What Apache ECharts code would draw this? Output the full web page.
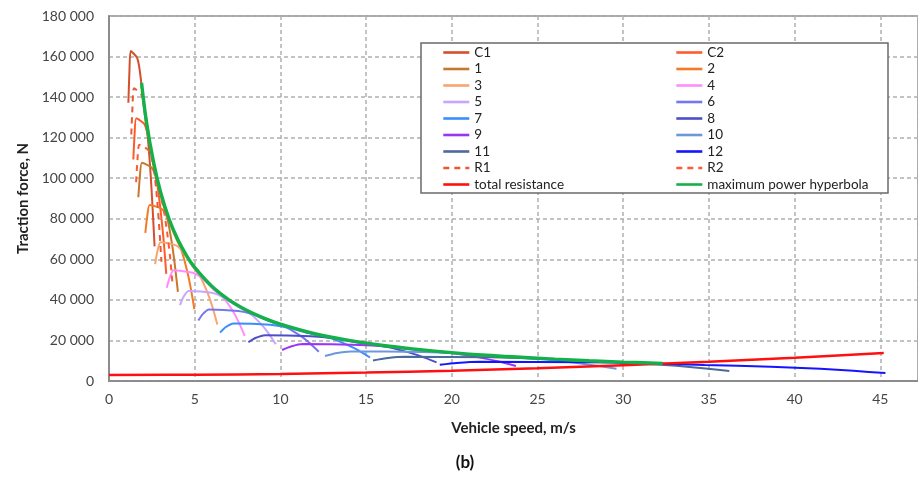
<!DOCTYPE html>
<html>
<head>
<meta charset="utf-8">
<script src="https://cdn.jsdelivr.net/npm/echarts@6/dist/echarts.min.js"></script>
<style>
html,body{margin:0;padding:0;background:#fff;}
#chart{width:918px;height:486px;}
</style>
</head>
<body>
<div id="chart"></div>
<script>
// ---- data: [speed m/s, traction force N] ----
const xTicks = [0, 5, 10, 15, 20, 25, 30, 35, 40, 45];
const yTicks = [0, 20000, 40000, 60000, 80000, 100000, 120000, 140000, 160000, 180000];

const gearC1 = [[1.13,137200],[1.19,152200],[1.27,162800],[1.64,159300],[1.81,152200],[2.03,135400],[2.26,120400],[2.43,101800],[2.54,85800],[2.66,66400]];
const gearC2 = [[1.42,109200],[1.49,121100],[1.59,129600],[2.06,126800],[2.27,121100],[2.56,107700],[2.84,95800],[3.05,81000],[3.20,68300],[3.34,52800]];
const gear1  = [[1.71,90600],[1.80,100600],[1.92,107600],[2.48,105300],[2.74,100600],[3.08,89500],[3.42,79500],[3.68,67300],[3.85,56700],[4.02,43900]];
const gear2  = [[2.12,73100],[2.23,81100],[2.37,86800],[3.07,84900],[3.39,81100],[3.82,72200],[4.24,64200],[4.56,54200],[4.77,45800],[4.98,35400]];
const gear3  = [[2.69,57600],[2.82,63900],[3.01,68400],[3.90,66900],[4.30,63900],[4.84,56900],[5.38,50600],[5.78,42800],[6.05,36100],[6.32,27900]];
const gear4  = [[3.37,46000],[3.54,51000],[3.77,54600],[4.89,53400],[5.39,51000],[6.07,45400],[6.74,40400],[7.25,34100],[7.58,28800],[7.92,22300]];
const gear5  = [[4.14,37400],[4.35,41500],[4.64,44400],[6.00,43500],[6.62,41500],[7.45,37000],[8.28,32900],[8.90,27800],[9.32,23400],[9.73,18100]];
const gear6  = [[5.21,29800],[5.47,33000],[5.84,35300],[7.55,34500],[8.34,33000],[9.38,29400],[10.42,26100],[11.20,22100],[11.72,18600],[12.24,14400]];
const gear7  = [[6.48,23900],[6.80,26500],[7.26,28400],[9.40,27800],[10.37,26500],[11.66,23600],[12.96,21000],[13.93,17700],[14.58,15000],[15.23,11600]];
const gear8  = [[8.13,19100],[8.54,21200],[9.11,22600],[11.79,22100],[13.01,21200],[14.63,18800],[16.26,16700],[17.48,14100],[18.29,11900],[19.11,9200]];
const gear9  = [[10.1,15300],[10.61,17000],[11.31,18200],[14.65,17800],[16.16,17000],[18.18,15100],[20.2,13500],[21.72,11400],[22.73,9600],[23.74,7400]];
const gear10 = [[12.6,12300],[13.23,13700],[14.11,14600],[18.27,14300],[20.16,13700],[22.68,12100],[25.2,10800],[27.09,9100],[28.35,7700],[29.61,6000]];
const gear11 = [[15.4,10100],[16.17,11200],[17.25,11900],[22.33,11700],[24.64,11200],[27.72,9900],[30.8,8800],[33.11,7500],[34.65,6300],[36.19,4900]];
const gear12 = [[19.3,8000],[20.27,8900],[21.62,9500],[27.99,9300],[30.88,8900],[34.74,7900],[38.6,7000],[41.5,6000],[43.43,5000],[45.3,3900]];
const gearR1 = [[1.30,121600],[1.37,135000],[1.46,144400],[1.89,141200],[2.08,135000],[2.34,120000],[2.60,106700],[2.80,90200],[2.93,76100],[3.06,58800]];
const gearR2 = [[1.58,98100],[1.66,108900],[1.77,116500],[2.29,113900],[2.53,108900],[2.84,96800],[3.16,86100],[3.40,72800],[3.56,61400],[3.71,47500]];
const totalResistance = [[0,3000],[5,3100],[10,3500],[15,4200],[20,5100],[25,6300],[30,7800],[35,9500],[40,11500],[45.2,13800]];
const maxPowerHyperbola = [[1.9,147000],[2.2,127000],[2.6,108000],[3.0,93500],[3.5,80000],[4.0,70000],[4.5,62200],[5.0,56000],[6.0,46700],[7.0,40000],[8.0,35000],[9.0,31100],[10,28000],[12,23300],[14,20000],[16,17500],[18,15600],[20,14000],[22,12700],[24,11700],[26,10800],[28,10000],[30,9300],[32.3,8700]];

const seriesNames = ['C1','C2','1','2','3','4','5','6','7','8','9','10','11','12','R1','R2','total resistance','maximum power hyperbola'];
const seriesData = [gearC1,gearC2,gear1,gear2,gear3,gear4,gear5,gear6,gear7,gear8,gear9,gear10,gear11,gear12,gearR1,gearR2,totalResistance,maxPowerHyperbola];
const seriesColors = ['#d2502c','#ff5a2a','#c8782c','#f47a26','#f9a46e','#ff8cff','#c8a6ff','#7676f0','#3a8cff','#4e4ec8','#9a34f8','#6c98da','#4a6a9c','#1414ff','#e85a36','#ff5a36','#ff1010','#14b04a'];

const FONT = 'Lato, "Open Sans", sans-serif';

function fmtThousands(v){ return String(v).replace(/\B(?=(\d{3})+(?!\d))/g, ' '); }

const series = seriesNames.map((n, i) => {
  const dashed = n === 'R1' || n === 'R2';
  let width = 2;
  if (n === 'total resistance') width = 2.5;
  if (n === 'maximum power hyperbola') width = 3.4;
  return {
    name: n,
    type: 'line',
    data: seriesData[i],
    symbol: 'none',
    smooth: n === 'maximum power hyperbola' || n === 'total resistance' ? 0.4 : 0.2,
    color: seriesColors[i],
    lineStyle: { color: seriesColors[i], width: width, type: dashed ? [6, 5] : 'solid' },
    animation: false,
    z: n === 'maximum power hyperbola' ? 5 : 3
  };
});

const leftNames = seriesNames.filter((_, i) => i % 2 === 0);
const rightNames = seriesNames.filter((_, i) => i % 2 === 1);

const legendBase = {
  orient: 'vertical',
  top: 45.5,
  padding: 0,
  itemWidth: 26,
  itemHeight: 14,
  itemGap: 2.5,
  itemStyle: { color: 'rgba(0,0,0,0)', borderWidth: 0, opacity: 0 },
  lineStyle: { width: 2.6 },
  textStyle: { fontFamily: FONT, fontSize: 13.5, color: '#222', lineHeight: 14 },
  selectedMode: false
};

const chart = echarts.init(document.getElementById('chart'), null, { renderer: 'canvas' });
chart.setOption({
  animation: false,
  backgroundColor: '#fff',
  grid: { left: 109, right: 0, top: 16, bottom: 105, show: true, borderColor: '#8c8c8c', borderWidth: 1.5 },
  legend: [
    Object.assign({}, legendBase, { left: 442, data: leftNames }),
    Object.assign({}, legendBase, { left: 675, data: rightNames })
  ],
  xAxis: {
    type: 'value', min: 0, max: 47.2, interval: 5,
    name: 'Vehicle speed, m/s', nameLocation: 'middle', nameGap: 40,
    nameTextStyle: { fontFamily: FONT, fontSize: 15, fontWeight: 'bold', color: '#222' },
    axisLine: { show: true, lineStyle: { color: '#8c8c8c', width: 2 } },
    axisTick: { show: false },
    axisLabel: {
      fontFamily: FONT, fontSize: 14, color: '#444', margin: 11,
      showMaxLabel: false,
      formatter: v => (xTicks.indexOf(v) >= 0 ? String(v) : '')
    },
    splitLine: { show: true, lineStyle: { color: '#b0b0b0', width: 1.5, type: [4, 3] } }
  },
  yAxis: {
    type: 'value', min: 0, max: 180000, interval: 20000,
    name: 'Traction force, N', nameLocation: 'middle', nameGap: 78,
    nameTextStyle: { fontFamily: FONT, fontSize: 15, fontWeight: 'bold', color: '#222' },
    axisLine: { show: true, lineStyle: { color: '#8c8c8c', width: 2 } },
    axisTick: { show: false },
    axisLabel: {
      fontFamily: FONT, fontSize: 14, color: '#444', margin: 15,
      formatter: v => (yTicks.indexOf(v) >= 0 ? fmtThousands(v) : '')
    },
    splitLine: { show: true, lineStyle: { color: '#b0b0b0', width: 1.5, type: [4, 3] } }
  },
  graphic: [
    { type: 'rect', z: 3, shape: { x: 421, y: 43, width: 467, height: 150 },
      style: { fill: '#fff', stroke: '#6a6a6a', lineWidth: 1.5 } },
    { type: 'text', z: 5, x: 465, y: 463,
      style: { text: '(b)', fontFamily: FONT, fontSize: 17, fontWeight: 'bold', fill: '#111', align: 'center', verticalAlign: 'middle' } }
  ],
  series: series
});
</script>
</body>
</html>
